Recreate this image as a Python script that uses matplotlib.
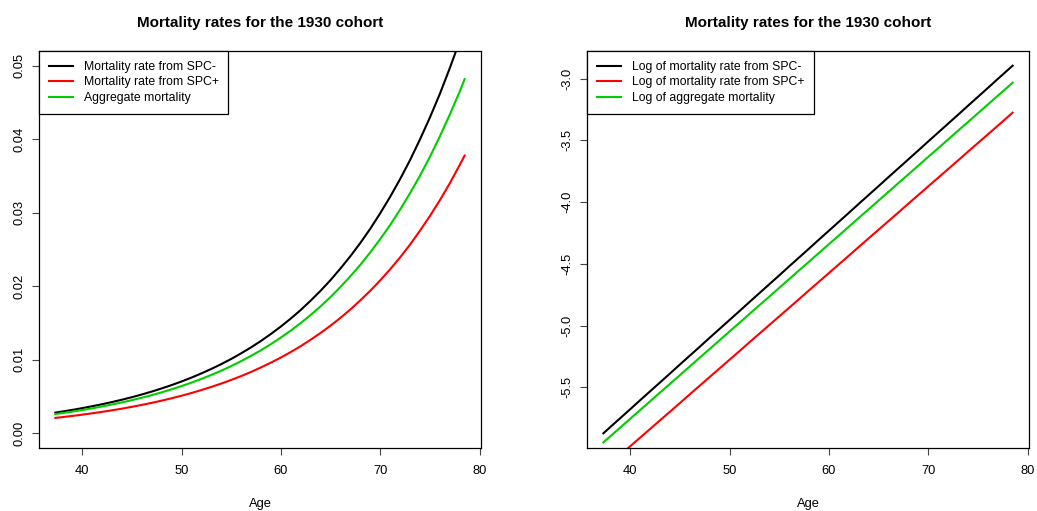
import numpy as np
import matplotlib
matplotlib.use("Agg")
import matplotlib.pyplot as plt

plt.rcParams['font.family'] = ['Liberation Sans', 'DejaVu Sans']

ages = [37.3] + list(range(38, 79)) + [78.5]

# log mortality rates
log_spc_minus = [-5.873,
                 -5.822, -5.750, -5.678, -5.605, -5.533, -5.461, -5.389, -5.316,
                 -5.244, -5.172, -5.099, -5.027, -4.955, -4.883, -4.810, -4.738,
                 -4.666, -4.594, -4.521, -4.449, -4.377, -4.304, -4.232, -4.160,
                 -4.088, -4.015, -3.943, -3.871, -3.798, -3.726, -3.654, -3.582,
                 -3.509, -3.437, -3.365, -3.293, -3.220, -3.148, -3.076, -3.003,
                 -2.931,
                 -2.895]
log_spc_plus = [-6.168,
                -6.119, -6.049, -5.978, -5.908, -5.838, -5.768, -5.698, -5.628,
                -5.557, -5.487, -5.417, -5.347, -5.277, -5.207, -5.136, -5.066,
                -4.996, -4.926, -4.856, -4.786, -4.715, -4.645, -4.575, -4.505,
                -4.435, -4.364, -4.294, -4.224, -4.154, -4.084, -4.013, -3.943,
                -3.873, -3.803, -3.733, -3.663, -3.592, -3.522, -3.452, -3.382,
                -3.311,
                -3.276]
log_aggregate = [-5.946,
                 -5.897, -5.826, -5.755, -5.685, -5.614, -5.543, -5.473, -5.402,
                 -5.331, -5.260, -5.190, -5.119, -5.048, -4.978, -4.907, -4.836,
                 -4.766, -4.695, -4.624, -4.553, -4.483, -4.412, -4.341, -4.271,
                 -4.200, -4.129, -4.059, -3.988, -3.917, -3.846, -3.776, -3.705,
                 -3.634, -3.564, -3.493, -3.422, -3.352, -3.281, -3.210, -3.139,
                 -3.069,
                 -3.033]

title = "Mortality rates for the 1930 cohort"
left_labels = ["Mortality rate from SPC-", "Mortality rate from SPC+",
               "Aggregate mortality"]
right_labels = ["Log of mortality rate from SPC-", "Log of mortality rate from SPC+",
                "Log of aggregate mortality"]
x_ticks = [40, 50, 60, 70, 80]
left_yticks = [0.00, 0.01, 0.02, 0.03, 0.04, 0.05]
right_yticks = [-5.5, -5.0, -4.5, -4.0, -3.5, -3.0]

colors = ["black", "#ff0000", "#00cd00"]

W, H = 1037, 511
fig = plt.figure(figsize=(W / 100, H / 100), dpi=100)
ax1 = fig.add_axes([39 / W, 1 - 448 / H, 442 / W, 397 / H])
ax2 = fig.add_axes([587 / W, 1 - 448 / H, 442 / W, 397 / H])

x = np.array(ages)
series = [log_spc_minus, log_spc_plus, log_aggregate]


def style_axes(ax, yticks, ylabels):
    ax.set_xticks(x_ticks)
    ax.set_yticks(yticks)
    ax.set_yticklabels(ylabels, rotation=90, va='center')
    ax.tick_params(axis='both', direction='out', length=5, width=0.8,
                   labelsize=9.3, pad=5, color='#444444')
    ax.tick_params(axis='x', pad=7)
    for s in ax.spines.values():
        s.set_linewidth(0.9)
    ax.set_xlabel("Age", fontsize=9.3, labelpad=15)
    ax.set_title(title, fontsize=11, fontweight='bold', pad=17)


# left panel: mortality rates
for vals, c, lab in zip(series, colors, left_labels):
    ax1.plot(x, np.exp(vals), color=c, lw=1.5, label=lab)
ax1.set_xlim(35.65, 80.15)
ax1.set_ylim(-0.002, 0.052)
style_axes(ax1, left_yticks, ["%.2f" % v for v in left_yticks])

# right panel: log mortality rates
for vals, c, lab in zip(series, colors, right_labels):
    ax2.plot(x, vals, color=c, lw=1.5, label=lab)
ax2.set_xlim(35.65, 80.15)
ax2.set_ylim(-5.992, -2.776)
style_axes(ax2, right_yticks, ["%.1f" % v for v in right_yticks])

for ax in (ax1, ax2):
    leg = ax.legend(loc='upper left', borderaxespad=0, fancybox=False,
                    framealpha=1, edgecolor='black', fontsize=8.8,
                    handlelength=2.0, borderpad=0.8, labelspacing=0.3,
                    handletextpad=0.85)
    leg.get_frame().set_linewidth(0.9)

fig.savefig("out.png", dpi=100)
